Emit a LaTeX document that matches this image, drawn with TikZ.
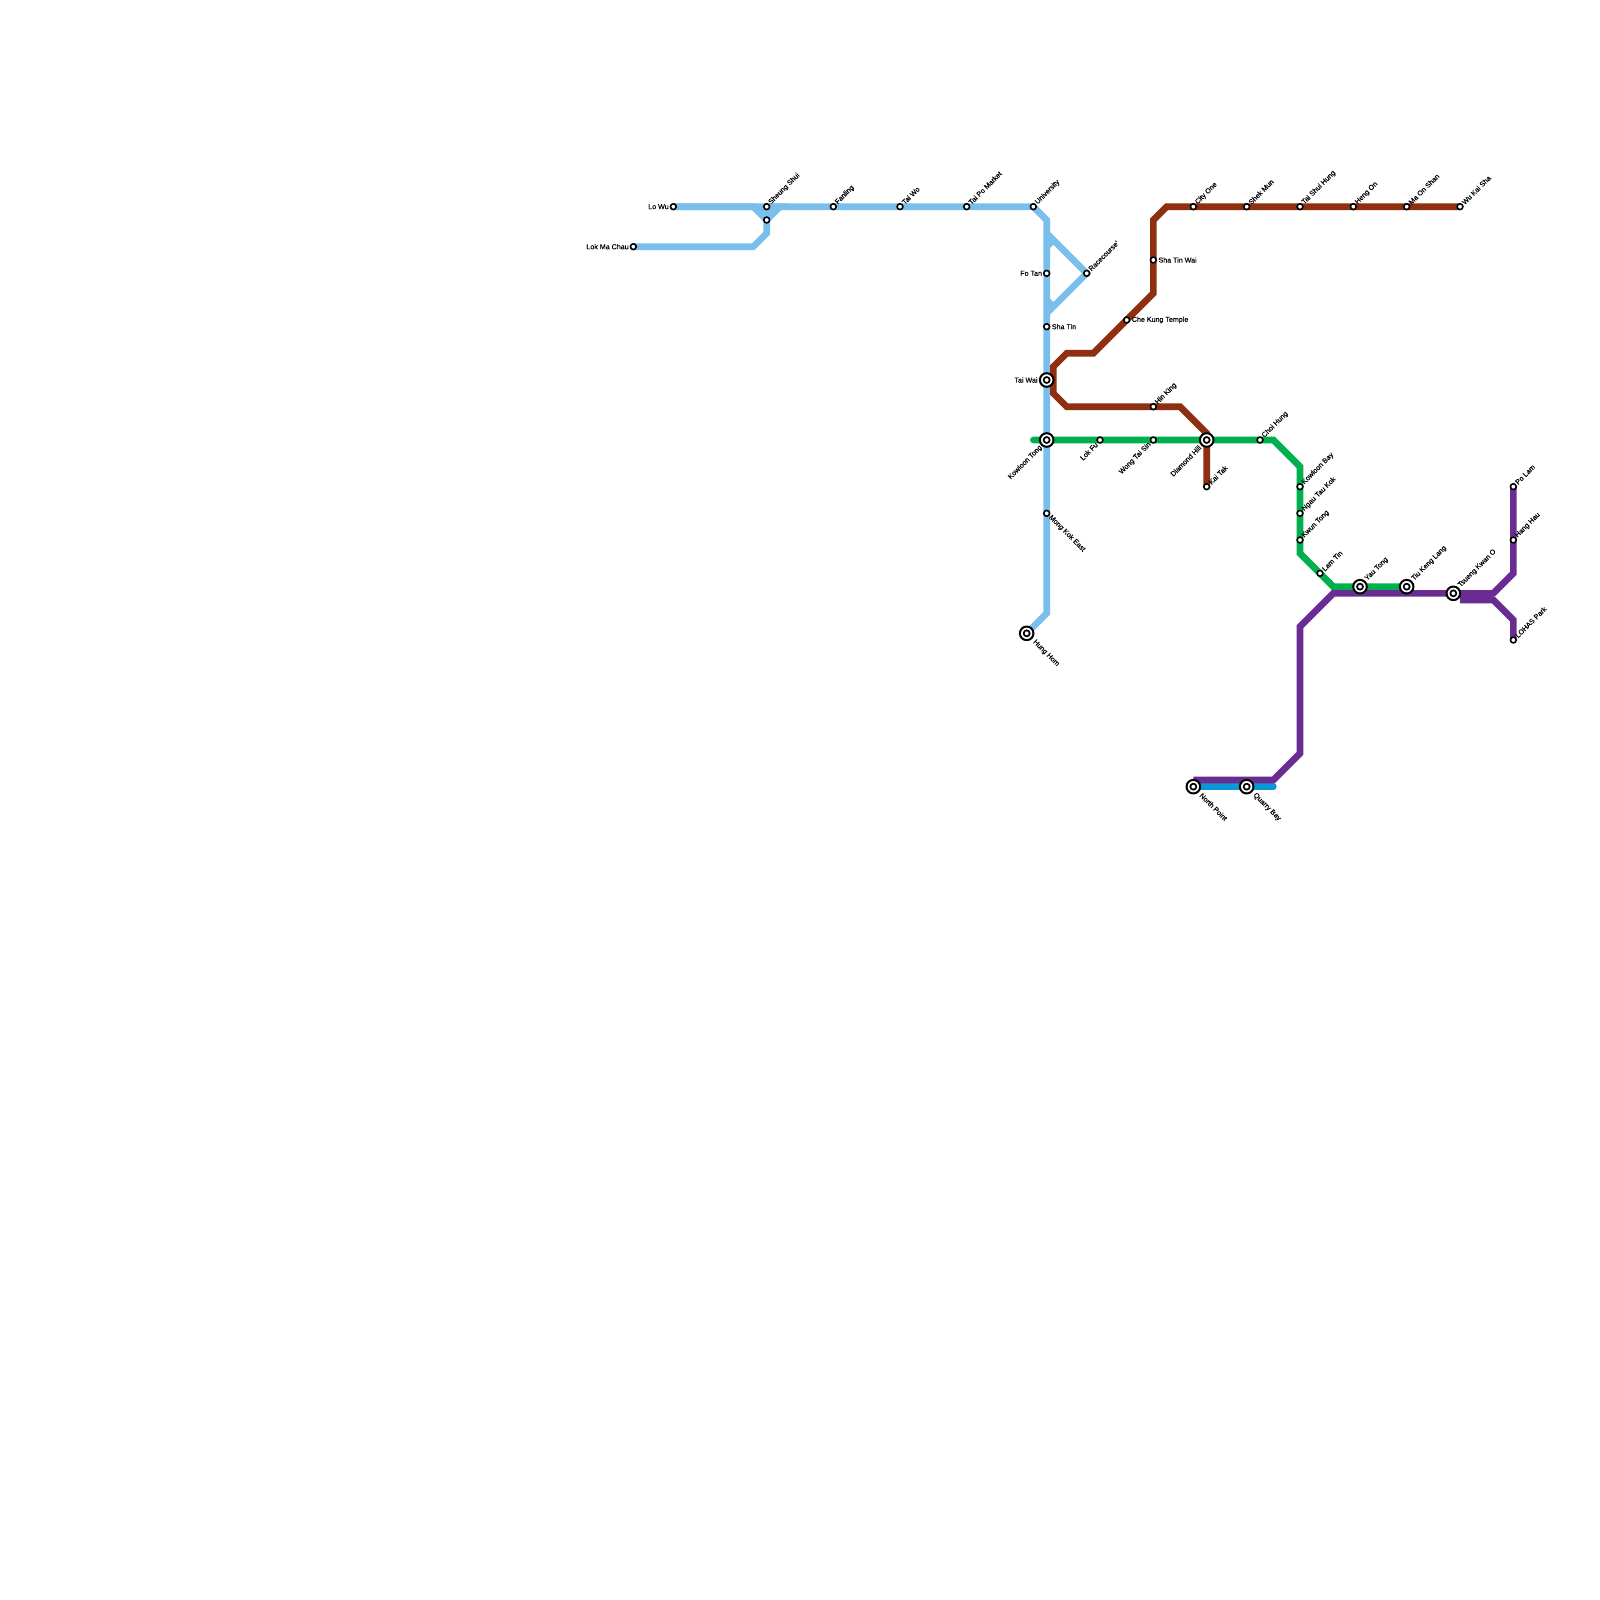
\documentclass[tikz,border=0pt]{standalone}
\usepackage{fontspec}
\setmainfont{Liberation Sans}[FakeBold=0.15]
\pgfdeclarelayer{lines}
\pgfsetlayers{lines,main}
\definecolor{ltblue}{HTML}{7ABEEB}
\definecolor{brown}{HTML}{8E2F10}
\definecolor{grn}{HTML}{00B04F}
\definecolor{purp}{HTML}{6A2C92}
\definecolor{blu}{HTML}{0A98D6}
\tikzset{
  stn/.style={circle,draw=black,fill=white,line width=1.6pt,minimum size=5.8pt,inner sep=0pt},
  ichg/.style={circle,draw=black,fill=white,line width=2pt,minimum size=13.6pt,inner sep=0pt,
    path picture={\draw[black,fill=white,line width=1.7pt] (path picture bounding box.center) circle (3pt);}},
  lab/.style={font=\fontsize{7.1}{8}\selectfont,inner sep=0pt,text=black},
  lne/.style={lab,rotate=45,anchor=west},
  lse/.style={lab,rotate=-45,anchor=west},
  lsw/.style={lab,rotate=45,anchor=east},
  lw/.style={lab,anchor=east},
  le/.style={lab,anchor=west},
  metro/.style={line width=6.67pt,line join=miter,line cap=butt},
}
% station with label: name, x, y, node style, label style, dx, dy, text
\newcommand{\stnode}[8]{%
  \node[#4] (#1) at (#2,#3) {};
  \node[#5] (#1-t) at (#2+#6,#3+#7) {#8};
}
\begin{document}
\begin{tikzpicture}[x=1pt,y=-1pt]
\useasboundingbox (0,0) rectangle (1600,1600);
\begin{pgfonlayer}{lines}
\fill[white] (0,0) rectangle (1600,1600);
\end{pgfonlayer}

% East Rail stations
\stnode{lowu}{673.33}{206.67}{stn}{lw}{-4.5}{0}{Lo Wu}
\stnode{lmc}{633.33}{246.67}{stn}{lw}{-4.5}{0}{Lok Ma Chau}
\stnode{shs}{766.67}{206.67}{stn}{lne}{3}{-3.3}{Sheung Shui}
\node[stn] (shs2) at (766.67,220) {};
\stnode{fan}{833.33}{206.67}{stn}{lne}{3}{-3.3}{Fanling}
\stnode{taiwo}{900}{206.67}{stn}{lne}{3}{-3.3}{Tai Wo}
\stnode{tpm}{966.67}{206.67}{stn}{lne}{3}{-3.3}{Tai Po Market}
\stnode{uni}{1033.33}{206.67}{stn}{lne}{3}{-3.3}{University}
\stnode{fotan}{1046.67}{273.33}{stn}{lw}{-4.5}{0}{Fo Tan}
\stnode{race}{1086.67}{273.33}{stn}{lne}{3}{-3.3}{Racecourse'}
\stnode{shatin}{1046.67}{326.67}{stn}{le}{5}{0}{Sha Tin}
\stnode{taiwai}{1046.67}{380}{ichg}{lw}{-9}{0}{Tai Wai}
\stnode{klt}{1046.67}{440}{ichg}{lsw}{-5.5}{6.5}{Kowloon Tong}
\stnode{mke}{1046.67}{513.33}{stn}{lse}{3.2}{3}{Mong Kok East}
\stnode{hh}{1026.67}{633.33}{ichg}{lse}{7.3}{7.8}{Hung Hom}

% Ma On Shan stations
\stnode{stw}{1153.33}{260}{stn}{le}{5}{0}{Sha Tin Wai}
\stnode{ckt}{1126.67}{320}{stn}{le}{5}{0}{Che Kung Temple}
\stnode{city}{1193.33}{206.67}{stn}{lne}{3}{-3.3}{City One}
\stnode{shek}{1246.67}{206.67}{stn}{lne}{3}{-3.3}{Shek Mun}
\stnode{tsh}{1300}{206.67}{stn}{lne}{3}{-3.3}{Tai Shui Hung}
\stnode{hengon}{1353.33}{206.67}{stn}{lne}{3}{-3.3}{Heng On}
\stnode{mos}{1406.67}{206.67}{stn}{lne}{3}{-3.3}{Ma On Shan}
\stnode{wks}{1460}{206.67}{stn}{lne}{3}{-3.3}{Wu Kai Sha}
\stnode{hink}{1153.33}{406.67}{stn}{lne}{3}{-3.3}{Hin King}
\stnode{kaitak}{1206.67}{486.67}{stn}{lne}{3}{-3.3}{Kai Tak}

% Kwun Tong stations
\stnode{lokfu}{1100}{440}{stn}{lsw}{-3.3}{3.5}{Lok Fu}
\stnode{wts}{1153.33}{440}{stn}{lsw}{-3.3}{3.5}{Wong Tai Sin}
\stnode{dh}{1206.67}{440}{ichg}{lsw}{-6.5}{6.5}{Diamond Hill}
\stnode{choi}{1260}{440}{stn}{lne}{3}{-3.3}{Choi Hung}
\stnode{kb}{1300}{486.67}{stn}{lne}{3}{-3.3}{Kowloon Bay}
\stnode{ntk}{1300}{513.33}{stn}{lne}{3}{-3.3}{Ngau Tau Kok}
\stnode{kwun}{1300}{540}{stn}{lne}{3}{-3.3}{Kwun Tong}
\stnode{lamtin}{1320}{573.33}{stn}{lne}{3}{-3.3}{Lam Tin}
\stnode{yau}{1360}{586.67}{ichg}{lne}{6}{-7}{Yau Tong}
\stnode{tkl}{1406.67}{586.67}{ichg}{lne}{6}{-7}{Tiu Keng Lang}
\stnode{tko}{1453.33}{593.33}{ichg}{lne}{6}{-7}{Tsueng Kwan O}

% Tseung Kwan O line ends
\stnode{polam}{1513.33}{486.67}{stn}{lne}{3}{-3.3}{Po Lam}
\stnode{hanghau}{1513.33}{540}{stn}{lne}{3}{-3.3}{Hang Hau}
\stnode{lohas}{1513.33}{640}{stn}{lne}{3}{-3.3}{LOHAS Park}

% Island end
\stnode{np}{1193.33}{786.67}{ichg}{lse}{7.5}{7.5}{North Point}
\stnode{qb}{1246.67}{786.67}{ichg}{lse}{7.5}{7.5}{Quarry Bay}

% bends and free ends
\coordinate (a1) at (753.33,206.67);
\coordinate (a2) at (780,206.67);
\coordinate (a3) at (766.67,233.33);
\coordinate (a4) at (753.33,246.67);
\coordinate (a5) at (1046.67,220);
\coordinate (a6) at (1046.67,613.33);
\coordinate (a7) at (1046.67,233.33);
\coordinate (a8) at (1046.67,313.33);
\coordinate (a9) at (1053.33,240);
\coordinate (a10) at (1046.67,246.67);
\coordinate (a11) at (1053.33,306.67);
\coordinate (a12) at (1046.67,300);
\coordinate (b1) at (1166.67,206.67);
\coordinate (b2) at (1153.33,220);
\coordinate (b3) at (1153.33,293.33);
\coordinate (b4) at (1093.33,353.33);
\coordinate (b5) at (1066.67,353.33);
\coordinate (b6) at (1053.33,366.67);
\coordinate (b7) at (1053.33,393.33);
\coordinate (b8) at (1066.67,406.67);
\coordinate (b9) at (1180,406.67);
\coordinate (b10) at (1206.67,433.33);
\coordinate (g0) at (1033.33,440);
\coordinate (g1) at (1273.33,440);
\coordinate (g2) at (1300,466.67);
\coordinate (g3) at (1300,553.33);
\coordinate (g4) at (1333.33,586.67);
\coordinate (p0) at (1193.33,780);
\coordinate (p1) at (1273.33,780);
\coordinate (p2) at (1300,753.33);
\coordinate (p3) at (1300,626.67);
\coordinate (p4) at (1333.33,593.33);
\coordinate (p5) at (1493.33,593.33);
\coordinate (p6) at (1513.33,573.33);
\coordinate (p7) at (1460,600);
\coordinate (p8) at (1493.33,600);
\coordinate (p9) at (1513.33,620);
\coordinate (c1) at (1273.33,786.67);

\begin{pgfonlayer}{lines}
\draw[metro,blu,line cap=round] (np.center) -- (c1);
\draw[metro,ltblue] (lowu.center) -- (a1) -- (shs2.center) -- (a2) -- (shs.center);
\fill[ltblue] (a1) -- (a2) -- (shs2.center) -- cycle;
\draw[metro,ltblue] (lmc.center) -- (a4) -- (a3) -- (shs2.center);
\draw[metro,ltblue] (lowu.center) -- (uni.center) -- (a5) -- (a6) -- (hh.center);
\draw[metro,ltblue] (a7) -- (race.center) -- (a8);
\draw[metro,ltblue] (a10) -- (a9);
\draw[metro,ltblue] (a12) -- (a11);
\draw[metro,grn,line cap=round] (g0) -- (g1) -- (g2) -- (g3) -- (g4) -- (tkl.center);
\draw[metro,brown] (wks.center) -- (b1) -- (b2) -- (b3) -- (b4) -- (b5) -- (b6) -- (b7) -- (b8) -- (b9) -- (b10) -- (kaitak.center);
\draw[metro,purp] (p0) -- (p1) -- (p2) -- (p3) -- (p4) -- (p5) -- (p6) -- (polam.center);
\fill[purp] (p7) rectangle (p5);
\draw[metro,purp] (p7) -- (p8) -- (p9) -- (lohas.center);
\end{pgfonlayer}
\end{tikzpicture}
\end{document}
